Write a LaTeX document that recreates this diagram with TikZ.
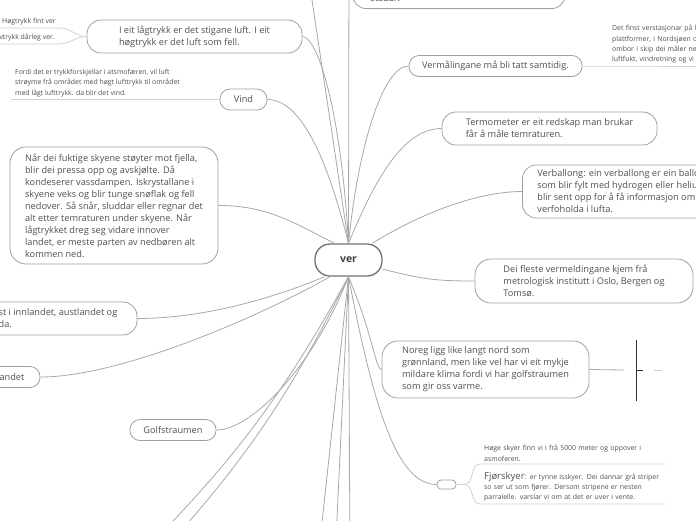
\documentclass[tikz,border=0pt]{standalone}
\usepackage{fontspec}
\setmainfont{Open Sans}
\usetikzlibrary{positioning}
\definecolor{lineGray}{HTML}{A8A8A8}
\definecolor{boxGray}{HTML}{A0A0A0}
\definecolor{leafGray}{HTML}{D0D0D0}
\definecolor{textGray}{HTML}{505050}
\definecolor{rootGray}{HTML}{707070}
\definecolor{markGray}{HTML}{333333}

\begin{document}
\begin{tikzpicture}[x=1pt, y=-1pt,
    topic/.style={draw=boxGray, line width=0.8pt, rounded corners=14pt, align=left, text=textGray, font=\fontsize{9.2}{12}\selectfont, inner xsep=0pt, inner ysep=0pt},
    pill/.style={topic, rounded corners=10pt},
    leaf/.style={align=left, text=textGray, font=\fontsize{6.9}{10.3}\selectfont, inner xsep=4pt, inner ysep=2.5pt},
    link/.style={draw=lineGray, line width=0.8pt},
    under/.style={draw=leafGray, line width=0.8pt},
]
    \useasboundingbox (0,0) rectangle (696,520);

    % Root
    \node[topic, draw=rootGray, line width=1.3pt, rounded corners=15pt, minimum width=67, minimum height=32, align=center, font=\bfseries\fontsize{10.5}{12}\selectfont, text=textGray!80!black] (ver) at (348.5,260) {ver};

    % Left branches
    \node[topic, minimum width=215, minimum height=33] (lagtrykk) at (194.5,36.5)
        {I eit lågtrykk er det stigane luft. I eit\\høgtrykk er det luft som fell.};
    \node[pill, minimum width=47, minimum height=21] (vind) at (243.5,99.5) {Vind};
    \node[topic, rounded corners=16pt, minimum width=208, minimum height=117] (fuktige) at (114,205.5)
        {Når dei fuktige skyene støyter mot fjella,\\blir dei pressa opp og avskjølte. Då\\kondeserer vassdampen. Iskrystallane i\\skyene veks og blir tunge snøflak og fell\\nedover. Så snår, sluddar eller regnar det\\alt etter temraturen under skyene. Når\\lågtrykket dreg seg vidare innover\\landet, er meste parten av nedbøren alt\\kommen ned.};
    \node[topic, minimum width=158, minimum height=33] (innland) at (58,318.5)
        {st i innlandet, austlandet og\\da.};
    \node[pill, minimum width=56, minimum height=21] (landet) at (12,377) {andet};
    \node[pill, minimum width=86, minimum height=21] (golf) at (173,430) {Golfstraumen};

    % Left leaves
    \node[leaf, anchor=south west] (hogtrykk) at (-2,28) {Høgtrykk fint ver};
    \node[leaf, anchor=south east] (lavtrykk) at (59,44) {Lavtrykk dårleg ver.};
    \node[leaf, anchor=south west] (fordi) at (11,99.5)
        {Fordi det er trykkforskjellar i atsmofæren, vil luft\\strøyme frå området med høgt lufttrykk til området\\med lågt lufttrykk. da blir det vind.};

    % Top (cut off)
    \node[topic, anchor=south west, text width=177pt, inner xsep=18pt, inner ysep=5pt, text height=22pt, text depth=2pt] (stadar) at (352,9) {stadar.};

    % Right branches
    \node[pill, minimum width=173, minimum height=21] (verm) at (495.5,66) {Vermålingane må bli tatt samtidig.};
    \node[topic, minimum width=215, minimum height=33] (termo) at (549.5,128.5)
        {Termometer er eit redskap man brukar\\får å måle temraturen.};
    \node[topic, anchor=west, inner xsep=15pt, minimum height=53] (verball) at (522,191.5)
        {Verballong:  ein verballong er ein ballo\\som blir fylt med hydrogen eller heliu\\blir sent opp for å få informasjon om\\verfoholda i lufta.};
    \node[topic, rounded corners=16pt, minimum width=218, minimum height=44] (fleste) at (584,281)
        {Dei fleste vermeldingane kjem frå\\metrologisk institutt i Oslo, Bergen og\\Tomsø.};
    \node[topic, rounded corners=16pt, minimum width=207, minimum height=57] (noreg) at (485.5,369.5)
        {Noreg ligg like langt nord som\\grønnland, men like vel har vi eit mykje\\mildare klima fordi vi har golfstraumen\\som gir oss varme.};
    \node[topic, rounded corners=4pt, minimum width=19, minimum height=9] (sky) at (446.5,484.5) {};

    % Right leaves
    \node[leaf, anchor=south west, text width=100pt] (verstasjon) at (608,66)
        {Det finst verstasjonar på l\\plattformer, i Nordsjøen o\\ombor i skip dei måler ne\\luftfukt, vindretning og vi};
    \node[leaf, anchor=south west, text width=177pt] (hoge) at (480,464)
        {Høge skyer finn vi i frå 5000 meter og oppover i\\asmoferen.};
    \node[leaf, anchor=south west, text width=177pt] (fjor) at (480,504)
        {{\fontsize{9.5}{10}\selectfont Fjørskyer}: er tynne isskyer. Dei dannar grå striper\\so ser ut som fjører. Dersom stripene er nesten\\parralelle. varslar vi om at det er uver i vente.};

    % Free ends off the page
    \coordinate (up1) at (306,-40);
    \coordinate (up2) at (349,-40);
    \coordinate (dn1) at (318,560);
    \coordinate (dn2) at (335,560);
    \coordinate (dn3) at (350,560);
    \coordinate (dn4) at (135,560);
    \coordinate (dn5) at (155,560);
    \coordinate (brk) at (624,370);

    % Connectors from the root
    \draw[link] (ver.north) -- (up1);
    \draw[link] (ver.north) -- (up2);
    \draw[link] (ver.north) .. controls +(-8,-140) and +(14,0) .. (lagtrykk.east);
    \draw[link] (ver.north) .. controls +(-20,-80) and +(35,0) .. (vind.east);
    \draw[link] (ver.130) .. controls +(-40,-20) and +(50,0) .. (fuktige.east);
    \draw[link] (ver.215) .. controls +(-60,25) and +(60,0) .. (innland.east);
    \draw[link] (ver.222) .. controls +(-70,40) and +(80,0) .. (landet.east);
    \draw[link] (ver.south) .. controls +(-35,90) and +(35,0) .. (golf.east);
    \draw[link] (ver.south) to[bend left=8] (dn4);
    \draw[link] (ver.south) to[bend left=8] (dn5);
    \draw[link] (ver.south) -- (dn1);
    \draw[link] (ver.south) -- (dn2);
    \draw[link] (ver.south) -- (dn3);
    \draw[link] (ver.north) .. controls +(10,-100) and +(-25,0) .. (verm.west);
    \draw[link] (ver.north) .. controls +(25,-60) and +(-40,0) .. (termo.west);
    \draw[link] (ver.35) .. controls +(40,-25) and +(-50,0) .. (verball.west);
    \draw[link] (ver.-15) .. controls +(40,10) and +(-40,0) .. (fleste.west);
    \draw[link] (ver.south) .. controls +(25,60) and +(-6,0) .. (noreg.west);
    \draw[link] (ver.south) .. controls +(25,130) and +(-40,0) .. (sky.west);

    % Leaf lines
    \draw[under] (lagtrykk.west) to[out=180, in=0] (hogtrykk.south east) -- (hogtrykk.south west);
    \draw[under] (lagtrykk.west) to[out=180, in=0] (lavtrykk.south east) -- (lavtrykk.south west);
    \draw[under] (vind.west) -- (fordi.south west);
    \draw[under] (verm.east) -- (verstasjon.south west) -- (verstasjon.south east);
    \draw[under] (sky.east) -- ++(8,0) to[out=0, in=180] (hoge.south west) -- (hoge.south east);
    \draw[under] (sky.east) -- ++(8,0) to[out=0, in=180] (fjor.south west) -- (fjor.south east);

    % Mark beside Noreg
    \draw[link] (noreg.east) -- (brk);
    \draw[markGray, line width=0.8pt] (636,340) -- (636,401) (636,370) -- (643,370);
    \draw[under] (654,370) -- (662,370);
\end{tikzpicture}
\end{document}
